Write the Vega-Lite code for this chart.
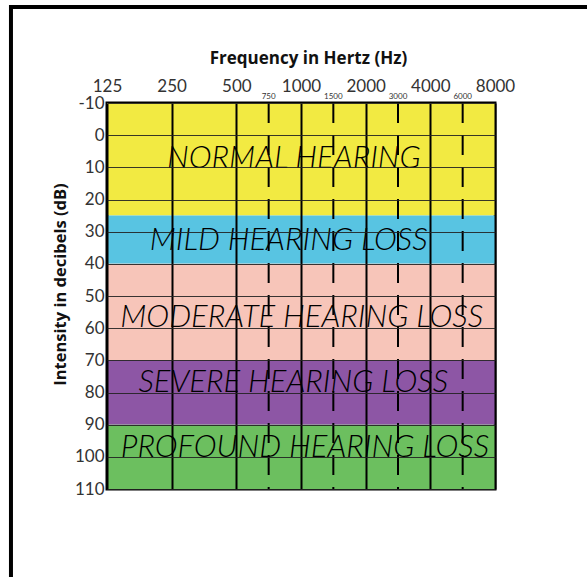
{
  "$schema": "https://vega.github.io/schema/vega-lite/v6.json",
  "width": 388,
  "height": 386,
  "autosize": {"type": "none"},
  "padding": {"left": 107, "top": 103, "right": 92, "bottom": 88},
  "background": "white",
  "config": {"view": {"stroke": "black", "strokeWidth": 3}, "font": "Lato"},
  "datasets": {
    "bands": [
      {"band": "Normal", "lo": -10, "hi": 25, "label": "NORMAL HEARING", "lx": 2.89, "ly": 7.5},
      {"band": "Mild", "lo": 25, "hi": 40, "label": "MILD HEARING LOSS", "lx": 2.81, "ly": 33},
      {"band": "Moderate", "lo": 40, "hi": 70, "label": "MODERATE HEARING LOSS", "lx": 3.01, "ly": 56.7},
      {"band": "Severe", "lo": 70, "hi": 90, "label": "SEVERE HEARING LOSS", "lx": 2.88, "ly": 77},
      {"band": "Profound", "lo": 90, "hi": 110, "label": "PROFOUND HEARING LOSS", "lx": 3.06, "ly": 97.3}
    ],
    "half": [
      {"oct": 2.5, "hz": "750"},
      {"oct": 3.5, "hz": "1500"},
      {"oct": 4.5, "hz": "3000"},
      {"oct": 5.5, "hz": "6000"}
    ]
  },
  "layer": [
    {
      "data": {"name": "bands"},
      "mark": {"type": "rect"},
      "encoding": {
        "x": {
          "datum": 0,
          "type": "quantitative",
          "scale": {"domain": [0, 6], "nice": false, "zero": false},
          "axis": {
            "orient": "top",
            "values": [0, 1, 2, 3, 4, 5, 6],
            "tickCount": 20,
            "labelExpr": "format(125*pow(2,datum.value),'d')",
            "grid": true,
            "gridColor": "black",
            "gridWidth": 2,
            "gridOpacity": 1,
            "domain": false,
            "ticks": false,
            "labelFontSize": 17,
            "labelColor": "#333",
            "labelPadding": 8,
            "labelFlush": false,
            "labelOverlap": false,
            "labelBound": false,
            "title": "Frequency in Hertz (Hz)",
            "titleFont": "Open Sans",
            "titleFontSize": 17,
            "titleFontWeight": "bold",
            "titleColor": "#111",
            "titlePadding": 10,
            "titleX": 201,
            "zindex": 1
          }
        },
        "x2": {"datum": 6},
        "y": {
          "field": "lo",
          "type": "quantitative",
          "scale": {"domain": [-10, 110], "reverse": true, "nice": false, "zero": false},
          "axis": {
            "orient": "left",
            "values": [-10, 0, 10, 20, 30, 40, 50, 60, 70, 80, 90, 100, 110],
            "tickCount": 20,
            "labelExpr": "datum.value < 0 ? '-' + abs(datum.value) : '' + datum.value",
            "grid": true,
            "gridColor": "#222",
            "gridWidth": 1.2,
            "gridOpacity": 0.9,
            "domain": false,
            "ticks": false,
            "labelFontSize": 17,
            "labelColor": "#333",
            "labelPadding": 3,
            "labelFlush": false,
            "labelOverlap": false,
            "labelBound": false,
            "title": "Intensity in decibels (dB)",
            "titleFont": "Open Sans",
            "titleFontSize": 16.5,
            "titleFontWeight": "bold",
            "titleColor": "#111",
            "titlePadding": 6,
            "titleY": 181,
            "zindex": 1
          }
        },
        "y2": {"field": "hi"},
        "color": {
          "field": "band",
          "type": "nominal",
          "scale": {
            "domain": ["Normal", "Mild", "Moderate", "Severe", "Profound"],
            "range": ["#f2ea42", "#58c4e2", "#f7c5b9", "#8d56a5", "#6cbf5f"]
          },
          "legend": null
        }
      }
    },
    {
      "data": {"name": "half"},
      "mark": {"type": "rule", "color": "black", "strokeWidth": 2, "strokeDash": [20, 12]},
      "encoding": {"x": {"field": "oct", "type": "quantitative"}}
    },
    {
      "data": {"name": "half"},
      "mark": {"type": "text", "fontSize": 8, "baseline": "bottom", "dy": -2, "color": "#333"},
      "encoding": {
        "x": {"field": "oct", "type": "quantitative"},
        "y": {"datum": -10},
        "text": {"field": "hz"}
      }
    },
    {
      "data": {"name": "bands"},
      "mark": {"type": "text", "fontSize": 31, "fontStyle": "italic", "fontWeight": 300, "color": "#000"},
      "encoding": {
        "x": {"field": "lx", "type": "quantitative"},
        "y": {"field": "ly", "type": "quantitative"},
        "text": {"field": "label"}
      }
    },
    {
      "data": {"values": [{}]},
      "mark": {"type": "rule", "color": "black", "strokeWidth": 4},
      "encoding": {
        "x": {"datum": -1.485},
        "x2": {"datum": 9},
        "y": {"datum": -39.85}
      }
    },
    {
      "data": {"values": [{}]},
      "mark": {"type": "rule", "color": "black", "strokeWidth": 4},
      "encoding": {
        "x": {"datum": -1.485},
        "y": {"datum": -40.5},
        "y2": {"datum": 150}
      }
    }
  ]
}
